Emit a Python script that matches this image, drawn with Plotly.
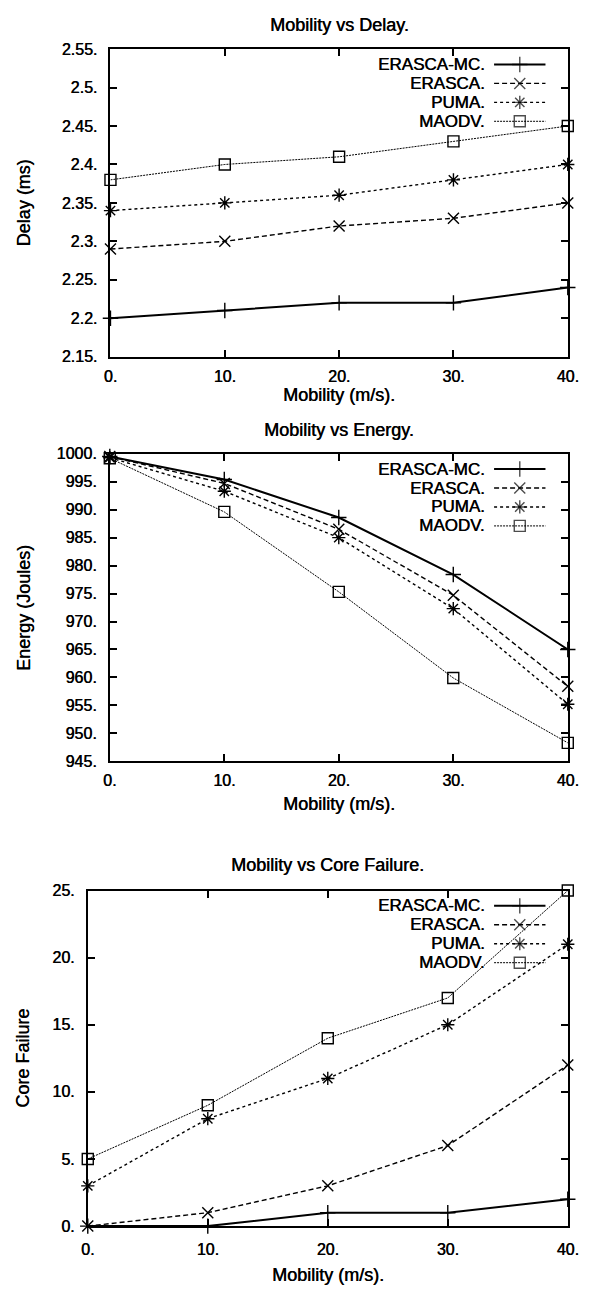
import plotly.graph_objects as go

# ---------------- data ----------------
mobility = [0, 10, 20, 30, 40]
x_ticktext = ["0.", "10.", "20.", "30.", "40."]
series_names = ["ERASCA-MC.", "ERASCA.", "PUMA.", "MAODV."]

delay_erasca_mc = [2.20, 2.21, 2.22, 2.22, 2.24]
delay_erasca = [2.29, 2.30, 2.32, 2.33, 2.35]
delay_puma = [2.34, 2.35, 2.36, 2.38, 2.40]
delay_maodv = [2.38, 2.40, 2.41, 2.43, 2.45]
delay_tickvals = [2.15, 2.20, 2.25, 2.30, 2.35, 2.40, 2.45, 2.50, 2.55]
delay_ticktext = ["2.15.", "2.2.", "2.25.", "2.3.", "2.35.", "2.4.", "2.45.", "2.5.", "2.55."]

energy_erasca_mc = [999.5, 995.4, 988.6, 978.4, 965.0]
energy_erasca = [999.5, 994.7, 986.5, 974.7, 958.4]
energy_puma = [999.3, 993.3, 985.0, 972.3, 955.2]
energy_maodv = [999.2, 989.6, 975.3, 959.9, 948.3]
energy_tickvals = [945, 950, 955, 960, 965, 970, 975, 980, 985, 990, 995, 1000]
energy_ticktext = ["945.", "950.", "955.", "960.", "965.", "970.", "975.", "980.", "985.", "990.", "995.", "1000."]

core_erasca_mc = [0, 0, 1, 1, 2]
core_erasca = [0, 1, 3, 6, 12]
core_puma = [3, 8, 11, 15, 21]
core_maodv = [5, 9, 14, 17, 25]
core_tickvals = [0, 5, 10, 15, 20, 25]
core_ticktext = ["0.", "5.", "10.", "15.", "20.", "25."]

# ---------------- styling ----------------
W, H = 594, 1295
FONT = "Liberation Sans"
SHADOW = "0.5px 0 0 #000"
styles = [
    dict(symbol="cross-thin-open", dash="solid", width=2.0),
    dict(symbol="x-thin-open", dash="5px,3px", width=1.4),
    dict(symbol="asterisk-open", dash="3px,3px", width=1.4),
    dict(symbol="square-open", dash="2px,1px", width=1.0),
]
MARKER_SIZE = 11
# legend geometry (pixels, relative to the plot box's top-right corner)
LEG_FONT = 17
LEG_FIRST_ROW = 15.5
LEG_ROW_STEP = 19.2
LEG_TEXT_RIGHT = 84
LEG_SAMPLE_FROM = 76
LEG_SAMPLE_TO = 23


def fx(p):
    return p / W


def fy(p):
    return 1 - p / H


def font(size):
    return dict(family=FONT, size=size, color="black", shadow=SHADOW)


panels = [
    dict(data=[delay_erasca_mc, delay_erasca, delay_puma, delay_maodv],
         yr=[2.15, 2.55], tv=delay_tickvals, tt=delay_ticktext,
         box=(106.7, 578.3, 41.7, 353.3), title="Mobility vs Delay.", ytitle="Delay (ms)",
         title_y=17.5, xtitle_y=392, xstand=4),
    dict(data=[energy_erasca_mc, energy_erasca, energy_puma, energy_maodv],
         yr=[945, 1000], tv=energy_tickvals, tt=energy_ticktext,
         box=(106.0, 578.3, 451.7, 763.3), title="Mobility vs Energy.", ytitle="Energy (Joules)",
         title_y=428, xtitle_y=807, xstand=4),
    dict(data=[core_erasca_mc, core_erasca, core_puma, core_maodv],
         yr=[0, 25], tv=core_tickvals, tt=core_ticktext,
         box=(83.3, 578.3, 894.3, 1234.3), title="Mobility vs Core Failure.", ytitle="Core Failure",
         title_y=868, xtitle_y=1284, xstand=8),
]

fig = go.Figure()
annotations = []
layout = dict(
    width=W, height=H, margin=dict(l=0, r=0, t=0, b=0),
    paper_bgcolor="white", plot_bgcolor="rgba(0,0,0,0)",
    font=font(16),
    showlegend=False,
)

# overlay axis in pixel units used only for the gnuplot-style legend keys
layout["xaxis4"] = dict(domain=[0, 1], range=[0, W], visible=False, fixedrange=True, anchor="y4")
layout["yaxis4"] = dict(domain=[0, 1], range=[H, 0], visible=False, fixedrange=True, anchor="x4")

for i, p in enumerate(panels):
    k = "" if i == 0 else str(i + 1)
    xa, ya = "x" + k, "y" + k
    x0, x1, y0, y1 = p["box"]
    for j, (vals, name, st) in enumerate(zip(p["data"], series_names, styles)):
        fig.add_trace(go.Scatter(
            x=mobility, y=vals, name=name, mode="lines+markers",
            xaxis=xa, yaxis=ya, cliponaxis=False, hoverinfo="skip",
            line=dict(color="black", width=st["width"], dash=st["dash"]),
            marker=dict(symbol=st["symbol"], size=MARKER_SIZE, color="black",
                        line=dict(color="black", width=1.4)),
        ))
        # legend key: text then sample (gnuplot style)
        row = y0 + LEG_FIRST_ROW + j * LEG_ROW_STEP
        sx0, sx1 = x1 - LEG_SAMPLE_FROM, x1 - LEG_SAMPLE_TO
        fig.add_trace(go.Scatter(
            x=[sx0, (sx0 + sx1) / 2, sx1], y=[row, row, row], mode="lines+markers",
            xaxis="x4", yaxis="y4", cliponaxis=False, hoverinfo="skip",
            line=dict(color="black", width=st["width"], dash=st["dash"]),
            marker=dict(symbol=st["symbol"], size=[0, MARKER_SIZE, 0], color="black",
                        line=dict(color="black", width=1.4)),
        ))
        annotations.append(dict(text=name, x=fx(x1 - LEG_TEXT_RIGHT), y=fy(row),
                                xref="paper", yref="paper", showarrow=False, borderpad=0,
                                xanchor="right", yanchor="middle", font=font(LEG_FONT)))
    axis_common = dict(showline=True, linecolor="black", linewidth=2, mirror="allticks",
                       ticks="inside", ticklen=7, tickwidth=1.5, tickcolor="black",
                       showgrid=False, zeroline=False, fixedrange=True,
                       tickfont=font(16))
    layout["xaxis" + k] = dict(domain=[fx(x0), fx(x1)], anchor=ya, range=[0, 40],
                               tickmode="array", tickvals=mobility, ticktext=x_ticktext,
                               ticklabelstandoff=p["xstand"], **axis_common)
    layout["yaxis" + k] = dict(domain=[fy(y1), fy(y0)], anchor=xa, range=p["yr"],
                               tickmode="array", tickvals=p["tv"], ticktext=p["tt"],
                               ticklabelstandoff=8, **axis_common)
    annotations.append(dict(text=p["title"], x=fx((x0 + x1) / 2), y=fy(p["title_y"]),
                            xref="paper", yref="paper", showarrow=False, borderpad=0,
                            xanchor="center", yanchor="middle", font=font(18)))
    annotations.append(dict(text="Mobility (m/s).", x=fx((x0 + x1) / 2), y=fy(p["xtitle_y"]),
                            xref="paper", yref="paper", showarrow=False, borderpad=0,
                            xanchor="center", yanchor="middle", font=font(18)))
    annotations.append(dict(text=p["ytitle"], x=fx(17), y=fy((y0 + y1) / 2),
                            xref="paper", yref="paper", showarrow=False, textangle=-90,
                            borderpad=0, xanchor="center", yanchor="middle", font=font(18)))

layout["annotations"] = annotations
fig.update_layout(**layout)
fig.write_html("out.html")
